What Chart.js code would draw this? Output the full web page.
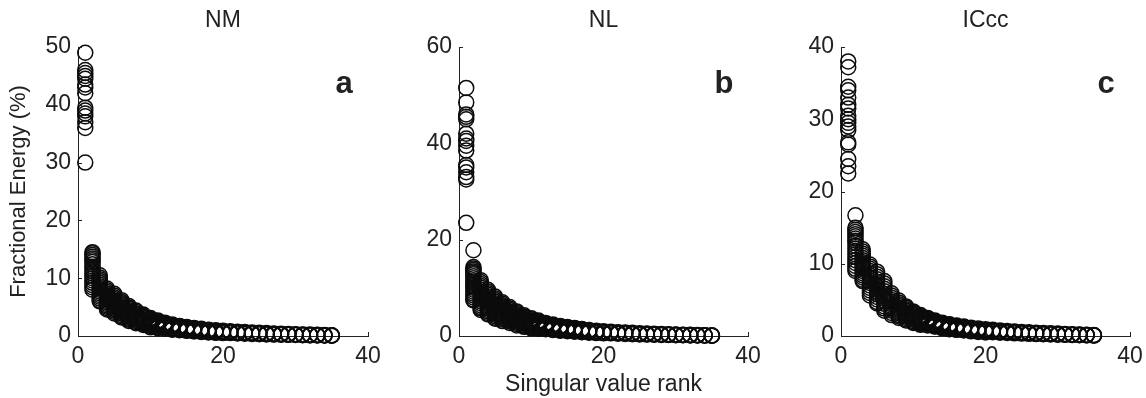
<!DOCTYPE html>
<html>
<head>
<meta charset="utf-8">
<title>Singular value spectra</title>
<script src="https://cdn.jsdelivr.net/npm/chart.js@4.4.1/dist/chart.umd.min.js"></script>
<style>
html, body { margin: 0; padding: 0; background: #fff; }
#wrap { position: relative; width: 1146px; height: 398px; overflow: hidden; }
.panel { position: absolute; top: 0; }
</style>
</head>
<body>
<div id="wrap">
  <canvas id="nmChart" class="panel" width="392" height="398" style="left:0px"></canvas>
  <canvas id="nlChart" class="panel" width="392" height="398" style="left:380px"></canvas>
  <canvas id="iccChart" class="panel" width="386" height="398" style="left:760px"></canvas>
</div>
<script>
// Fractional energy (%) per singular value rank, one list per rank (rank 1 first)
const nmByRank = [
  [49, 46, 45.5, 45, 44.5, 43.5, 43, 42, 39.5, 39, 38.5, 38, 37, 36, 30],
  [14.5, 14.3, 14, 13.7, 13.4, 13.1, 12.8, 12.4, 12, 11.6, 11.2, 10.8, 10.4, 10, 9.6, 9.2, 8.8, 8.4, 8],
  [10.5, 10.1, 9.8, 9.5, 9.2, 8.9, 8.6, 8.3, 8, 7.7, 7.4, 7.1, 6.8, 6.5, 6.2, 6],
  [8.2, 7.9, 7.6, 7.3, 7.05, 6.8, 6.55, 6.3, 6.05, 5.8, 5.55, 5.3, 5.05, 4.8, 4.6],
  [7.3, 7, 6.7, 6.4, 6.15, 5.9, 5.65, 5.4, 5.15, 4.9, 4.65, 4.4, 4.15, 3.9],
  [6.2, 5.9, 5.65, 5.4, 5.15, 4.9, 4.65, 4.4, 4.15, 3.9, 3.65, 3.4, 3.2],
  [5.2, 4.95, 4.7, 4.45, 4.2, 3.95, 3.7, 3.45, 3.2, 3, 2.8, 2.6],
  [4.4, 4.15, 3.9, 3.65, 3.4, 3.2, 3, 2.8, 2.6, 2.4, 2.2],
  [3.7, 3.5, 3.3, 3.1, 2.9, 2.7, 2.5, 2.35, 2.2, 2.05, 1.9],
  [3.1, 2.95, 2.8, 2.65, 2.5, 2.35, 2.2, 2.05, 1.9, 1.75, 1.6, 1.5],
  [2.7, 2.55, 2.4, 2.25, 2.1, 1.95, 1.8, 1.65, 1.5, 1.35],
  [2.3, 2.17, 2.04, 1.91, 1.78, 1.65, 1.52, 1.39, 1.25],
  [2, 1.88, 1.76, 1.64, 1.52, 1.4, 1.28, 1.16, 1.1],
  [1.75, 1.64, 1.53, 1.42, 1.31, 1.2, 1.1, 1],
  [1.55, 1.45, 1.35, 1.25, 1.15, 1.05, 0.95, 0.9],
  [1.4, 1.3, 1.2, 1.1, 1, 0.9, 0.8],
  [1.25, 1.15, 1.05, 0.95, 0.85, 0.75, 0.7],
  [1.1, 0.95, 0.8, 0.7, 0.62],
  [1, 0.85, 0.72, 0.62, 0.55],
  [0.9, 0.78, 0.65, 0.55, 0.5],
  [0.82, 0.7, 0.58, 0.5],
  [0.75, 0.62, 0.52, 0.45],
  [0.68, 0.56, 0.47, 0.4],
  [0.62, 0.5, 0.42, 0.36],
  [0.56, 0.45, 0.38, 0.32],
  [0.5, 0.4, 0.33, 0.28],
  [0.45, 0.36, 0.3, 0.25],
  [0.4, 0.32, 0.27, 0.22],
  [0.36, 0.29, 0.24, 0.2],
  [0.32, 0.26, 0.21, 0.17],
  [0.28, 0.22, 0.18, 0.15],
  [0.24, 0.19, 0.15, 0.12],
  [0.2, 0.16, 0.13, 0.1],
  [0.16, 0.13, 0.1, 0.08],
  [0.12, 0.1, 0.08, 0.06]
];

const nlByRank = [
  [51.5, 48.5, 46, 45.5, 45, 42, 41, 40.5, 39.5, 38.5, 35.5, 35, 34, 33, 32.5, 23.5],
  [17.8, 14.3, 14, 13.7, 13.4, 13.1, 12.8, 12.4, 12, 11.6, 11.2, 10.8, 10.4, 10, 9.6, 9.2, 8.8, 8.4, 8, 7.6, 7.4],
  [11.6, 11.2, 10.8, 10.4, 10, 9.6, 9.2, 8.8, 8.4, 8, 7.6, 7.2, 6.8, 6.4, 6, 5.7, 5.4],
  [9.6, 9.25, 8.9, 8.55, 8.2, 7.85, 7.5, 7.15, 6.8, 6.45, 6.1, 5.75, 5.4, 5.1, 4.8, 4.5],
  [8.2, 7.85, 7.5, 7.15, 6.8, 6.45, 6.1, 5.75, 5.4, 5.05, 4.7, 4.4, 4.1, 3.8, 3.6],
  [7, 6.7, 6.4, 6.1, 5.8, 5.5, 5.2, 4.9, 4.6, 4.3, 4, 3.7, 3.4, 3.1],
  [6, 5.7, 5.4, 5.1, 4.8, 4.5, 4.2, 3.9, 3.6, 3.3, 3, 2.7],
  [5.1, 4.8, 4.5, 4.2, 3.9, 3.6, 3.3, 3, 2.75, 2.5, 2.2],
  [4.3, 4.05, 3.8, 3.55, 3.3, 3.05, 2.8, 2.55, 2.3, 2.1, 1.9],
  [3.7, 3.47, 3.24, 3.01, 2.78, 2.55, 2.32, 2.1, 1.9, 1.75, 1.6],
  [3.2, 3, 2.8, 2.6, 2.4, 2.2, 2, 1.8, 1.65, 1.5],
  [2.7, 2.53, 2.36, 2.19, 2.02, 1.85, 1.7, 1.55, 1.4],
  [2.4, 2.24, 2.08, 1.92, 1.76, 1.6, 1.45, 1.3, 1.25],
  [2.1, 1.96, 1.82, 1.68, 1.54, 1.4, 1.27, 1.15, 1.1],
  [1.85, 1.72, 1.6, 1.48, 1.36, 1.24, 1.12, 1],
  [1.65, 1.54, 1.43, 1.32, 1.21, 1.1, 1, 0.9],
  [1.45, 1.35, 1.25, 1.15, 1.05, 0.95, 0.85, 0.8],
  [1.25, 1.05, 0.9, 0.8, 0.7],
  [1.1, 0.95, 0.8, 0.7, 0.6],
  [1, 0.85, 0.72, 0.62, 0.55],
  [0.9, 0.76, 0.64, 0.55],
  [0.8, 0.68, 0.57, 0.48],
  [0.72, 0.6, 0.5, 0.42],
  [0.65, 0.54, 0.45, 0.38],
  [0.58, 0.48, 0.4, 0.33],
  [0.52, 0.43, 0.36, 0.3],
  [0.46, 0.38, 0.32, 0.26],
  [0.41, 0.34, 0.28, 0.23],
  [0.36, 0.3, 0.25, 0.2],
  [0.32, 0.26, 0.22, 0.17],
  [0.28, 0.23, 0.19, 0.15],
  [0.24, 0.2, 0.16, 0.12],
  [0.2, 0.16, 0.13, 0.1],
  [0.16, 0.13, 0.1, 0.08],
  [0.12, 0.1, 0.08, 0.06]
];

const iccByRank = [
  [38, 37.2, 34.5, 34, 33, 32, 31.5, 30.5, 30, 29.5, 29, 28.5, 26.8, 26.5, 24.5, 23.5, 22.5],
  [16.7, 15, 14.7, 14.4, 14.1, 13.8, 13.5, 13.2, 12.9, 12.5, 12.1, 11.7, 11.3, 10.9, 10.5, 10.1, 9.7, 9.3, 9],
  [12, 11.7, 11.4, 11.1, 10.8, 10.5, 10.2, 9.9, 9.6, 9.3, 9, 8.7, 8.4, 8.1, 7.8, 7.6],
  [9.9, 9.6, 9.3, 9, 8.7, 8.4, 8.05, 7.7, 7.35, 7, 6.65, 6.3, 5.95, 5.6],
  [8.9, 8.55, 8.2, 7.85, 7.5, 7.15, 6.8, 6.45, 6.1, 5.75, 5.4, 5.05, 4.7, 4.5],
  [7.6, 7.25, 6.9, 6.55, 6.2, 5.85, 5.5, 5.15, 4.8, 4.45, 4.1, 3.8, 3.5],
  [5.9, 5.6, 5.3, 5, 4.7, 4.4, 4.1, 3.8, 3.5, 3.2, 2.9],
  [4.9, 4.65, 4.4, 4.15, 3.9, 3.65, 3.4, 3.15, 2.9, 2.7, 2.5],
  [4.1, 3.9, 3.7, 3.5, 3.3, 3.1, 2.9, 2.7, 2.5, 2.3, 2.15],
  [3.4, 3.23, 3.06, 2.89, 2.72, 2.55, 2.38, 2.21, 2.04, 1.9, 1.8],
  [2.9, 2.76, 2.62, 2.48, 2.34, 2.2, 2.06, 1.92, 1.78, 1.64, 1.55],
  [2.5, 2.38, 2.26, 2.14, 2.02, 1.9, 1.78, 1.66, 1.54, 1.45],
  [2.15, 2.05, 1.95, 1.85, 1.75, 1.65, 1.55, 1.45, 1.35, 1.3],
  [1.85, 1.76, 1.67, 1.58, 1.49, 1.4, 1.31, 1.22, 1.13, 1.1],
  [1.62, 1.54, 1.46, 1.38, 1.3, 1.22, 1.14, 1.06, 0.98, 0.95],
  [1.45, 1.38, 1.31, 1.24, 1.17, 1.1, 1.03, 0.96, 0.89, 0.85],
  [1.3, 1.23, 1.16, 1.09, 1.02, 0.95, 0.88, 0.81, 0.78],
  [1.15, 1, 0.9, 0.75, 0.65],
  [1.05, 0.9, 0.8, 0.65, 0.55],
  [0.95, 0.82, 0.7, 0.58, 0.5],
  [0.85, 0.74, 0.62, 0.52],
  [0.77, 0.66, 0.56, 0.46],
  [0.7, 0.6, 0.5, 0.41],
  [0.63, 0.54, 0.45, 0.37],
  [0.57, 0.48, 0.4, 0.33],
  [0.51, 0.43, 0.36, 0.3],
  [0.46, 0.39, 0.32, 0.27],
  [0.41, 0.35, 0.29, 0.24],
  [0.37, 0.31, 0.26, 0.21],
  [0.33, 0.27, 0.23, 0.18],
  [0.29, 0.24, 0.2, 0.16],
  [0.25, 0.21, 0.17, 0.13],
  [0.21, 0.17, 0.14, 0.11],
  [0.17, 0.14, 0.11, 0.09],
  [0.13, 0.1, 0.08, 0.06]
];

const xTicks = [0, 20, 40];
const nmYTicks = [0, 10, 20, 30, 40, 50];
const nlYTicks = [0, 20, 40, 60];
const iccYTicks = [0, 10, 20, 30, 40];

const FONT = '"Liberation Sans", Arial, Helvetica, sans-serif';
const INK = '#222';
const FONT_SIZE = 23;

// flatten rank lists into {x: rank, y: value} points
const toPoints = (byRank) => {
  const pts = [];
  byRank.forEach((vals, i) => {
    vals.forEach((v) => pts.push({ x: i + 1, y: v }));
  });
  return pts;
};

// title above the axes, bold letter in the corner, inward tick marks
const panelDecor = {
  id: 'panelDecor',
  afterDraw(chart, args, opts) {
    const { ctx, chartArea, scales } = chart;
    ctx.save();
    ctx.fillStyle = INK;
    ctx.textAlign = 'center';
    ctx.textBaseline = 'middle';
    ctx.font = FONT_SIZE + 'px ' + FONT;
    ctx.fillText(opts.title, (chartArea.left + chartArea.right) / 2, 21);
    ctx.font = 'bold 31px ' + FONT;
    ctx.fillText(opts.letter, chartArea.right - 24, 84);

    ctx.strokeStyle = INK;
    ctx.lineWidth = 1;
    ctx.beginPath();
    scales.y.ticks.forEach((t) => {
      const py = Math.round(scales.y.getPixelForValue(t.value)) + 0.5;
      ctx.moveTo(chartArea.left, py);
      ctx.lineTo(chartArea.left + 4, py);
    });
    scales.x.ticks.forEach((t) => {
      const px = Math.round(scales.x.getPixelForValue(t.value)) + 0.5;
      ctx.moveTo(px, chartArea.bottom);
      ctx.lineTo(px, chartArea.bottom - 4);
    });
    ctx.stroke();
    ctx.restore();
  }
};

function makePanel(canvasId, byRank, yTicks, opts) {
  const yMax = yTicks[yTicks.length - 1];
  return new Chart(document.getElementById(canvasId), {
    type: 'scatter',
    data: {
      datasets: [{
        data: toPoints(byRank),
        pointStyle: 'circle',
        pointRadius: 7.5,
        pointHoverRadius: 7.5,
        borderWidth: 1.5,
        borderColor: '#0c0c0c',
        backgroundColor: 'rgba(0,0,0,0)',
        clip: false
      }]
    },
    options: {
      responsive: false,
      animation: false,
      events: [],
      layout: { padding: { top: 47, right: opts.padRight, left: 0, bottom: 0 } },
      plugins: {
        legend: { display: false },
        tooltip: { enabled: false },
        panelDecor: { title: opts.title, letter: opts.letter }
      },
      scales: {
        x: {
          type: 'linear',
          min: xTicks[0],
          max: xTicks[xTicks.length - 1],
          afterBuildTicks: (s) => { s.ticks = xTicks.map((v) => ({ value: v })); },
          afterFit: (s) => {
            s.height = 62;
            s.paddingLeft = 0;
            s.paddingRight = 0;
          },
          grid: { display: false, drawTicks: false },
          border: { display: true, color: INK, width: 1 },
          ticks: { padding: 7, maxRotation: 0, color: INK, font: { family: FONT, size: FONT_SIZE } },
          title: {
            display: !!opts.xTitle,
            text: opts.xTitle || '',
            color: INK,
            font: { family: FONT, size: FONT_SIZE },
            padding: { top: 0, bottom: 0 }
          }
        },
        y: {
          type: 'linear',
          min: 0,
          max: yMax,
          afterBuildTicks: (s) => { s.ticks = yTicks.map((v) => ({ value: v })); },
          afterFit: (s) => {
            s.width = opts.yWidth;
            s.paddingTop = 0;
            s.paddingBottom = 0;
          },
          grid: { display: false, drawTicks: false },
          border: { display: true, color: INK, width: 1 },
          ticks: { padding: 7, color: INK, font: { family: FONT, size: FONT_SIZE } },
          title: {
            display: !!opts.yTitle,
            text: opts.yTitle || '',
            color: INK,
            font: { family: FONT, size: 22 },
            padding: { top: 6, bottom: 0 }
          }
        }
      }
    },
    plugins: [panelDecor]
  });
}

makePanel('nmChart', nmByRank, nmYTicks, {
  title: 'NM', letter: 'a', yWidth: 78, padRight: 24,
  yTitle: 'Fractional Energy (%)'
});
makePanel('nlChart', nlByRank, nlYTicks, {
  title: 'NL', letter: 'b', yWidth: 79, padRight: 24,
  xTitle: 'Singular value rank'
});
makePanel('iccChart', iccByRank, iccYTicks, {
  title: 'ICcc', letter: 'c', yWidth: 81, padRight: 16
});
</script>
</body>
</html>
